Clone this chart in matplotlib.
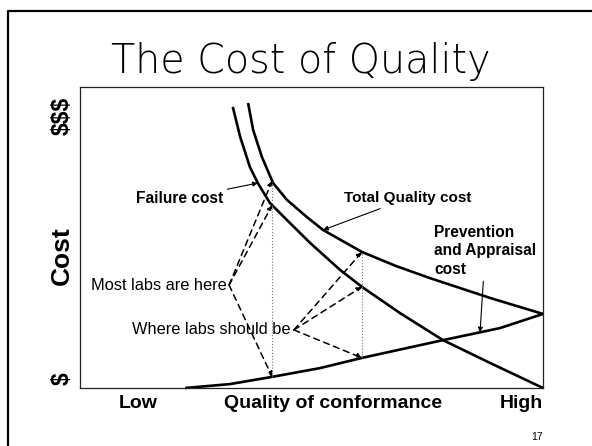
import numpy as np
import matplotlib
matplotlib.use('Agg')
import matplotlib.pyplot as plt
from matplotlib.lines import Line2D

plt.rcParams['font.family'] = ['Liberation Sans', 'DejaVu Sans']

# curves (quality 0..100, cost 0..100)
fail_x = [33.0, 34.6, 36.7, 38.4, 41.0, 44.7, 49.7, 56.2, 60.9, 69.1, 78.4, 88.6, 100.0]
fail_y = [93.4, 83.4, 73.4, 68.1, 61.5, 55.8, 48.2, 39.2, 33.6, 24.9, 15.9, 8.3, 0.0]
total_x = [36.3, 37.4, 39.3, 41.7, 44.7, 49.0, 52.5, 60.9, 68.3, 75.6, 88.6, 100.0]
total_y = [94.7, 85.7, 76.7, 68.1, 62.5, 56.8, 52.5, 45.2, 40.5, 36.5, 29.9, 24.6]
prev_x = [22.7, 32.4, 41.5, 51.8, 60.9, 78.4, 90.7, 100.0]
prev_y = [0.0, 1.3, 3.7, 6.6, 10.0, 15.9, 19.9, 24.6]

most_x = 41.5     # where most labs are
should_x = 60.9   # where labs should be

W, H = 592, 446
fig = plt.figure(figsize=(W / 100, H / 100), dpi=100)

def fx(px):
    return px / W

def fy(py):
    return 1 - py / H

ax = fig.add_axes([fx(80), fy(388), fx(543) - fx(80), fy(87) - fy(388)])
ax.set_xlim(0, 100)
ax.set_ylim(0, 100)
ax.set_xticks([])
ax.set_yticks([])
for s in ax.spines.values():
    s.set_linewidth(0.9)
    s.set_color('#222222')

for xs, ys in ((fail_x, fail_y), (total_x, total_y), (prev_x, prev_y)):
    ax.plot(xs, ys, color='black', lw=1.9, clip_on=False,
            solid_capstyle='butt', solid_joinstyle='round')

def at(xs, ys, x):
    return float(np.interp(x, xs, ys))

# dotted verticals
for xv in (most_x, should_x):
    ax.plot([xv, xv], [at(prev_x, prev_y, xv), at(total_x, total_y, xv)],
            color='#777777', lw=0.8, ls=':')

dash = dict(arrowstyle='-|>', ls=(0, (4, 3)), lw=1.1, color='black',
            mutation_scale=7, shrinkA=0, shrinkB=0)
solid = dict(arrowstyle='-|>', lw=0.8, color='black', mutation_scale=7,
             shrinkA=1, shrinkB=0)

# Most labs are here
src = (32.2, 34.2)
ax.text(31.6, 34.2, 'Most labs are here', ha='right', va='center', fontsize=11.8)
for xs, ys in ((total_x, total_y), (fail_x, fail_y), (prev_x, prev_y)):
    ax.annotate('', xy=(most_x, at(xs, ys, most_x)), xytext=src, arrowprops=dash)

# Where labs should be
src = (46.2, 19.3)
ax.text(45.4, 19.3, 'Where labs should be', ha='right', va='center', fontsize=11.8)
for xs, ys in ((total_x, total_y), (fail_x, fail_y), (prev_x, prev_y)):
    ax.annotate('', xy=(should_x, at(xs, ys, should_x)), xytext=src, arrowprops=dash)

# curve labels
ax.annotate('Failure cost', xy=(38.4, at(fail_x, fail_y, 38.4)), xytext=(30.9, 62.8),
            ha='right', va='center', fontsize=11.2, fontweight='bold', arrowprops=solid)
ax.annotate('Total Quality cost', xy=(52.5, at(total_x, total_y, 52.5)), xytext=(57.0, 63.0),
            ha='left', va='center', fontsize=11, fontweight='bold', arrowprops=solid)
ax.annotate('Prevention\nand Appraisal\ncost', xy=(86.4, at(prev_x, prev_y, 86.4)),
            xytext=(76.5, 54.2), ha='left', va='top', fontsize=11.2, fontweight='bold',
            linespacing=1.3, arrowprops=solid)

# slide text
fig.text(fx(301), fy(73), 'The Cost of Quality', ha='center', va='baseline',
         fontsize=28.5, family='DejaVu Sans', fontweight='light')
fig.text(fx(62), fy(116), '$$$', rotation=90, ha='center', va='center',
         fontsize=16.5, fontweight='bold')
fig.text(fx(62), fy(256), 'Cost', rotation=90, ha='center', va='center',
         fontsize=19, fontweight='bold')
fig.text(fx(62), fy(379), '$', rotation=90, ha='center', va='center',
         fontsize=16.5, fontweight='bold')
fig.text(fx(138), fy(403), 'Low', ha='center', va='center', fontsize=14, fontweight='bold')
fig.text(fx(333), fy(403), 'Quality of conformance', ha='center', va='center',
         fontsize=14, fontweight='bold')
fig.text(fx(521), fy(403), 'High', ha='center', va='center', fontsize=14, fontweight='bold')
fig.text(fx(537), fy(437), '17', ha='center', va='center', fontsize=7.5)

# slide frame
fig.add_artist(Line2D([fx(8), fx(8), fx(600)], [fy(460), fy(10.5), fy(10.5)],
                      color='black', lw=1.6))

fig.savefig('out.png', dpi=100)
